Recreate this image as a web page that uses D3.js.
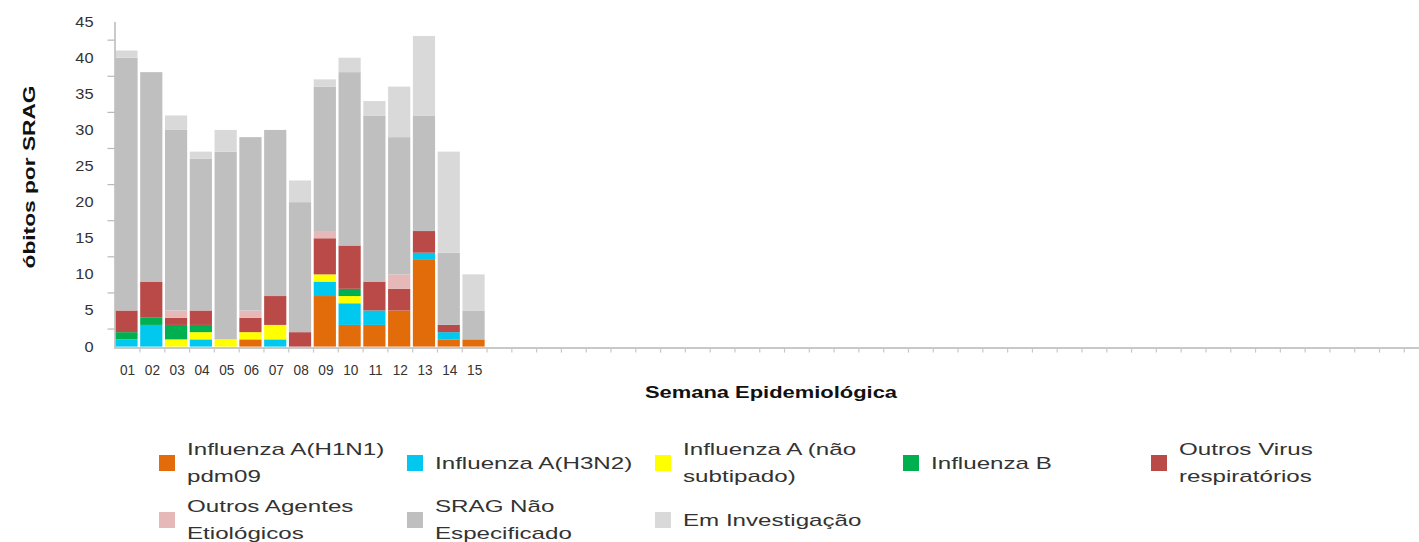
<!DOCTYPE html>
<html>
<head>
<meta charset="utf-8">
<script src="https://cdnjs.cloudflare.com/ajax/libs/d3/7.8.5/d3.min.js"></script>
<style>
  body { margin: 0; background: #fff; }
  svg { display: block; font-family: "Liberation Sans", Arial, sans-serif; }
</style>
</head>
<body>
<div id="chart"></div>
<script>
// semanas com dados (eixo vai até a semana 53)
const weeks = ['01', '02', '03', '04', '05', '06', '07', '08', '09', '10', '11', '12', '13', '14', '15'];
const weekCount = 53;

const h1n1 = [0, 0, 0, 0, 0, 1, 0, 0, 7, 3, 3, 5, 12, 1, 1];
const h3n2 = [1, 3, 0, 1, 0, 0, 1, 0, 2, 3, 2, 0, 1, 1, 0];
const naoSubtipado = [0, 0, 1, 1, 1, 1, 2, 0, 1, 1, 0, 0, 0, 0, 0];
const influenzaB = [1, 1, 2, 1, 0, 0, 0, 0, 0, 1, 0, 0, 0, 0, 0];
const outrosVirus = [3, 5, 1, 2, 0, 2, 4, 2, 5, 6, 4, 3, 3, 1, 0];
const outrosAgentes = [0, 0, 1, 0, 0, 1, 0, 0, 1, 0, 0, 2, 0, 0, 0];
const sragNaoEspec = [35, 29, 25, 21, 26, 24, 23, 18, 20, 24, 23, 19, 16, 10, 4];
const emInvestigacao = [1, 0, 2, 1, 3, 0, 0, 3, 1, 2, 2, 7, 11, 14, 5];

const seriesKeys = ['h1n1', 'h3n2', 'naoSubtipado', 'influenzaB', 'outrosVirus', 'outrosAgentes', 'sragNaoEspec', 'emInvestigacao'];
const seriesValues = [h1n1, h3n2, naoSubtipado, influenzaB, outrosVirus, outrosAgentes, sragNaoEspec, emInvestigacao];
const seriesColors = ['#e36c0a', '#00c8ee', '#ffff00', '#00b050', '#b94a48', '#e6b8b7', '#bfbfbf', '#d9d9d9'];
const legendLines = [
  ['Influenza A(H1N1)', 'pdm09'],
  ['Influenza A(H3N2)'],
  ['Influenza A (não', 'subtipado)'],
  ['Influenza B'],
  ['Outros Virus', 'respiratórios'],
  ['Outros Agentes', 'Etiológicos'],
  ['SRAG Não', 'Especificado'],
  ['Em Investigação'],
];

const yTicks = [0, 5, 10, 15, 20, 25, 30, 35, 40, 45];
const yMinorTicks = [2.5, 7.5, 12.5, 17.5, 22.5, 27.5, 32.5, 37.5, 42.5];

const width = 1419;
const height = 542;

// the source image is stretched sideways; widen text along its direction
function stretch(sel, k) {
  sel.each(function () {
    const len = this.getComputedTextLength();
    d3.select(this)
      .attr('textLength', len * k)
      .attr('lengthAdjust', 'spacingAndGlyphs');
  });
}

const rows = weeks.map((w, i) => {
  const row = { week: w };
  seriesKeys.forEach((k, j) => { row[k] = seriesValues[j][i]; });
  return row;
});

const allWeeks = d3.range(1, weekCount + 1).map(n => String(n).padStart(2, '0'));

const x = d3.scaleBand()
  .domain(allWeeks)
  .range([115.2, 115.2 + weekCount * 24.79])
  .padding(0);

const y = d3.scaleLinear()
  .domain([0, 45])
  .range([346.6, 21.6]);

const svg = d3.select('#chart')
  .append('svg')
  .attr('width', width)
  .attr('height', height);

const stacked = d3.stack().keys(seriesKeys)(rows);

svg.append('g')
  .selectAll('g')
  .data(stacked)
  .join('g')
  .attr('fill', (d, i) => seriesColors[i])
  .selectAll('rect')
  .data(d => d)
  .join('rect')
  .attr('x', d => x(d.data.week) + 0.2)
  .attr('width', x.step() - 2.6)
  .attr('y', d => y(d[1]))
  .attr('height', d => y(d[0]) - y(d[1]));

// eixo Y
const yAxis = svg.append('g')
  .attr('transform', 'translate(114.5,0)')
  .call(d3.axisLeft(y).tickValues(yTicks).tickSize(0).tickPadding(21));
yAxis.select('.domain').attr('stroke', '#b8b8b8').attr('stroke-width', 1.5);
yAxis.selectAll('text')
  .attr('fill', '#333')
  .style('font-size', '14px')
  .call(stretch, 1.17);

const yMinor = svg.append('g')
  .attr('transform', 'translate(114.5,0)')
  .call(d3.axisLeft(y).tickValues(yMinorTicks).tickSize(7).tickFormat(''));
yMinor.select('.domain').remove();
yMinor.selectAll('line').attr('stroke', '#b8b8b8').attr('stroke-width', 1.2);

// eixo X
const xAxis = svg.append('g')
  .attr('transform', 'translate(0,347.6)')
  .call(d3.axisBottom(x)
    .tickSize(0)
    .tickPadding(16)
    .tickFormat(d => weeks.includes(d) ? d : ''));
xAxis.select('.domain')
  .attr('d', `M114,0.5H${width}`)
  .attr('stroke', '#c8c8c8')
  .attr('stroke-width', 2);
xAxis.selectAll('text')
  .attr('fill', '#333')
  .style('font-size', '15.5px')
  .call(stretch, 0.88);

xAxis.append('g')
  .selectAll('line')
  .data(allWeeks)
  .join('line')
  .attr('x1', d => x(d) + x.step())
  .attr('x2', d => x(d) + x.step())
  .attr('y1', 1)
  .attr('y2', 5)
  .attr('stroke', '#c8c8c8')
  .attr('stroke-width', 1.2);

// títulos
svg.append('text')
  .attr('transform', 'translate(34.5,177) rotate(-90)')
  .attr('text-anchor', 'middle')
  .attr('fill', '#111')
  .style('font-size', '16px')
  .style('font-weight', 'bold')
  .text('óbitos por SRAG')
  .call(stretch, 1.42);

svg.append('text')
  .attr('x', 771)
  .attr('y', 398)
  .attr('text-anchor', 'middle')
  .attr('fill', '#111')
  .style('font-size', '16px')
  .style('font-weight', 'bold')
  .text('Semana Epidemiológica')
  .call(stretch, 1.37);

// legenda
const legend = svg.append('g');
const items = legend.selectAll('g')
  .data(legendLines)
  .join('g')
  .attr('transform', (d, i) => `translate(${159 + (i % 5) * 248},${i < 5 ? 463 : 520})`);

items.append('rect')
  .attr('x', 0)
  .attr('y', -8)
  .attr('width', 16)
  .attr('height', 16)
  .attr('fill', (d, i) => seriesColors[i]);

items.each(function (lines) {
  const g = d3.select(this);
  const offsets = lines.length === 1 ? [0] : [-14, 13];
  lines.forEach((line, j) => {
    g.append('text')
      .attr('x', 28)
      .attr('y', offsets[j])
      .attr('dy', '0.35em')
      .attr('fill', '#333')
      .style('font-size', '17px')
      .text(line)
      .call(stretch, 1.42);
  });
});
</script>
</body>
</html>
